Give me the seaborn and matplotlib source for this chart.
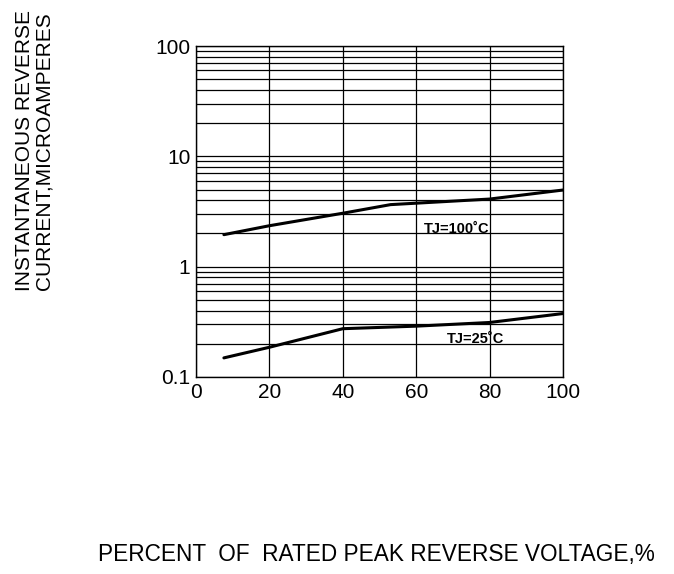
import numpy as np
import pandas as pd
import seaborn as sns
import matplotlib.pyplot as plt
from matplotlib.ticker import LogLocator, NullFormatter, FixedLocator

# --- data ---
pct_100 = [7.6, 20, 40, 53, 80, 100]
cur_100 = [1.95, 2.35, 3.05, 3.65, 4.1, 4.95]
pct_25 = [7.6, 20, 40, 60, 80, 100]
cur_25 = [0.149, 0.186, 0.274, 0.289, 0.312, 0.376]
x_ticks = [0, 20, 40, 60, 80, 100]
y_ticks = [0.1, 1, 10, 100]
y_tick_labels = ["0.1", "1", "10", "100"]

df = pd.concat([
    pd.DataFrame({"pct": pct_100, "cur": cur_100, "tj": "100"}),
    pd.DataFrame({"pct": pct_25, "cur": cur_25, "tj": "25"}),
])

sns.set_style("white")
plt.rcParams["font.family"] = ["Liberation Sans", "DejaVu Sans"]
plt.rcParams["text.color"] = "black"

fig = plt.figure(figsize=(6.74, 5.74), dpi=100)
ax = fig.add_axes([196 / 674, 1 - 377 / 574, 367 / 674, 331 / 574])

sns.lineplot(data=df, x="pct", y="cur", units="tj", estimator=None,
             color="black", linewidth=2.2, ax=ax, legend=False)

ax.set_yscale("log")
ax.set_xlim(0, 100)
ax.set_ylim(0.1, 100)
ax.xaxis.set_major_locator(FixedLocator(x_ticks))
ax.yaxis.set_major_locator(FixedLocator(y_ticks))
ax.set_yticklabels(y_tick_labels)
ax.yaxis.set_minor_locator(LogLocator(base=10, subs=np.arange(2, 10)))
ax.yaxis.set_minor_formatter(NullFormatter())
ax.grid(which="major", axis="both", color="black", linewidth=0.9)
ax.grid(which="minor", axis="y", color="black", linewidth=0.9)
ax.tick_params(axis="both", which="both", length=0, labelsize=15,
               colors="black", labelcolor="black", pad=4)
for s in ax.spines.values():
    s.set_color("black")
    s.set_linewidth(1.0)
ax.set_xlabel("")
ax.set_ylabel("")

ax.text(62, 2.2, "TJ=100˚C", fontsize=10.5, fontweight="bold", va="center", ha="left")
ax.text(68.3, 0.219, "TJ=25˚C", fontsize=10.5, fontweight="bold", va="center", ha="left")

fig.text(34 / 674, 1 - 151 / 574, "INSTANTANEOUS REVERSE\nCURRENT,MICROAMPERES",
         rotation=90, ha="center", va="center", fontsize=15, linespacing=1.05,
         multialignment="center")
fig.text(376 / 674, 1 - 555 / 574, "PERCENT  OF  RATED PEAK REVERSE VOLTAGE,%",
         ha="center", va="center", fontsize=16.3)

fig.savefig("out.png", dpi=100)
